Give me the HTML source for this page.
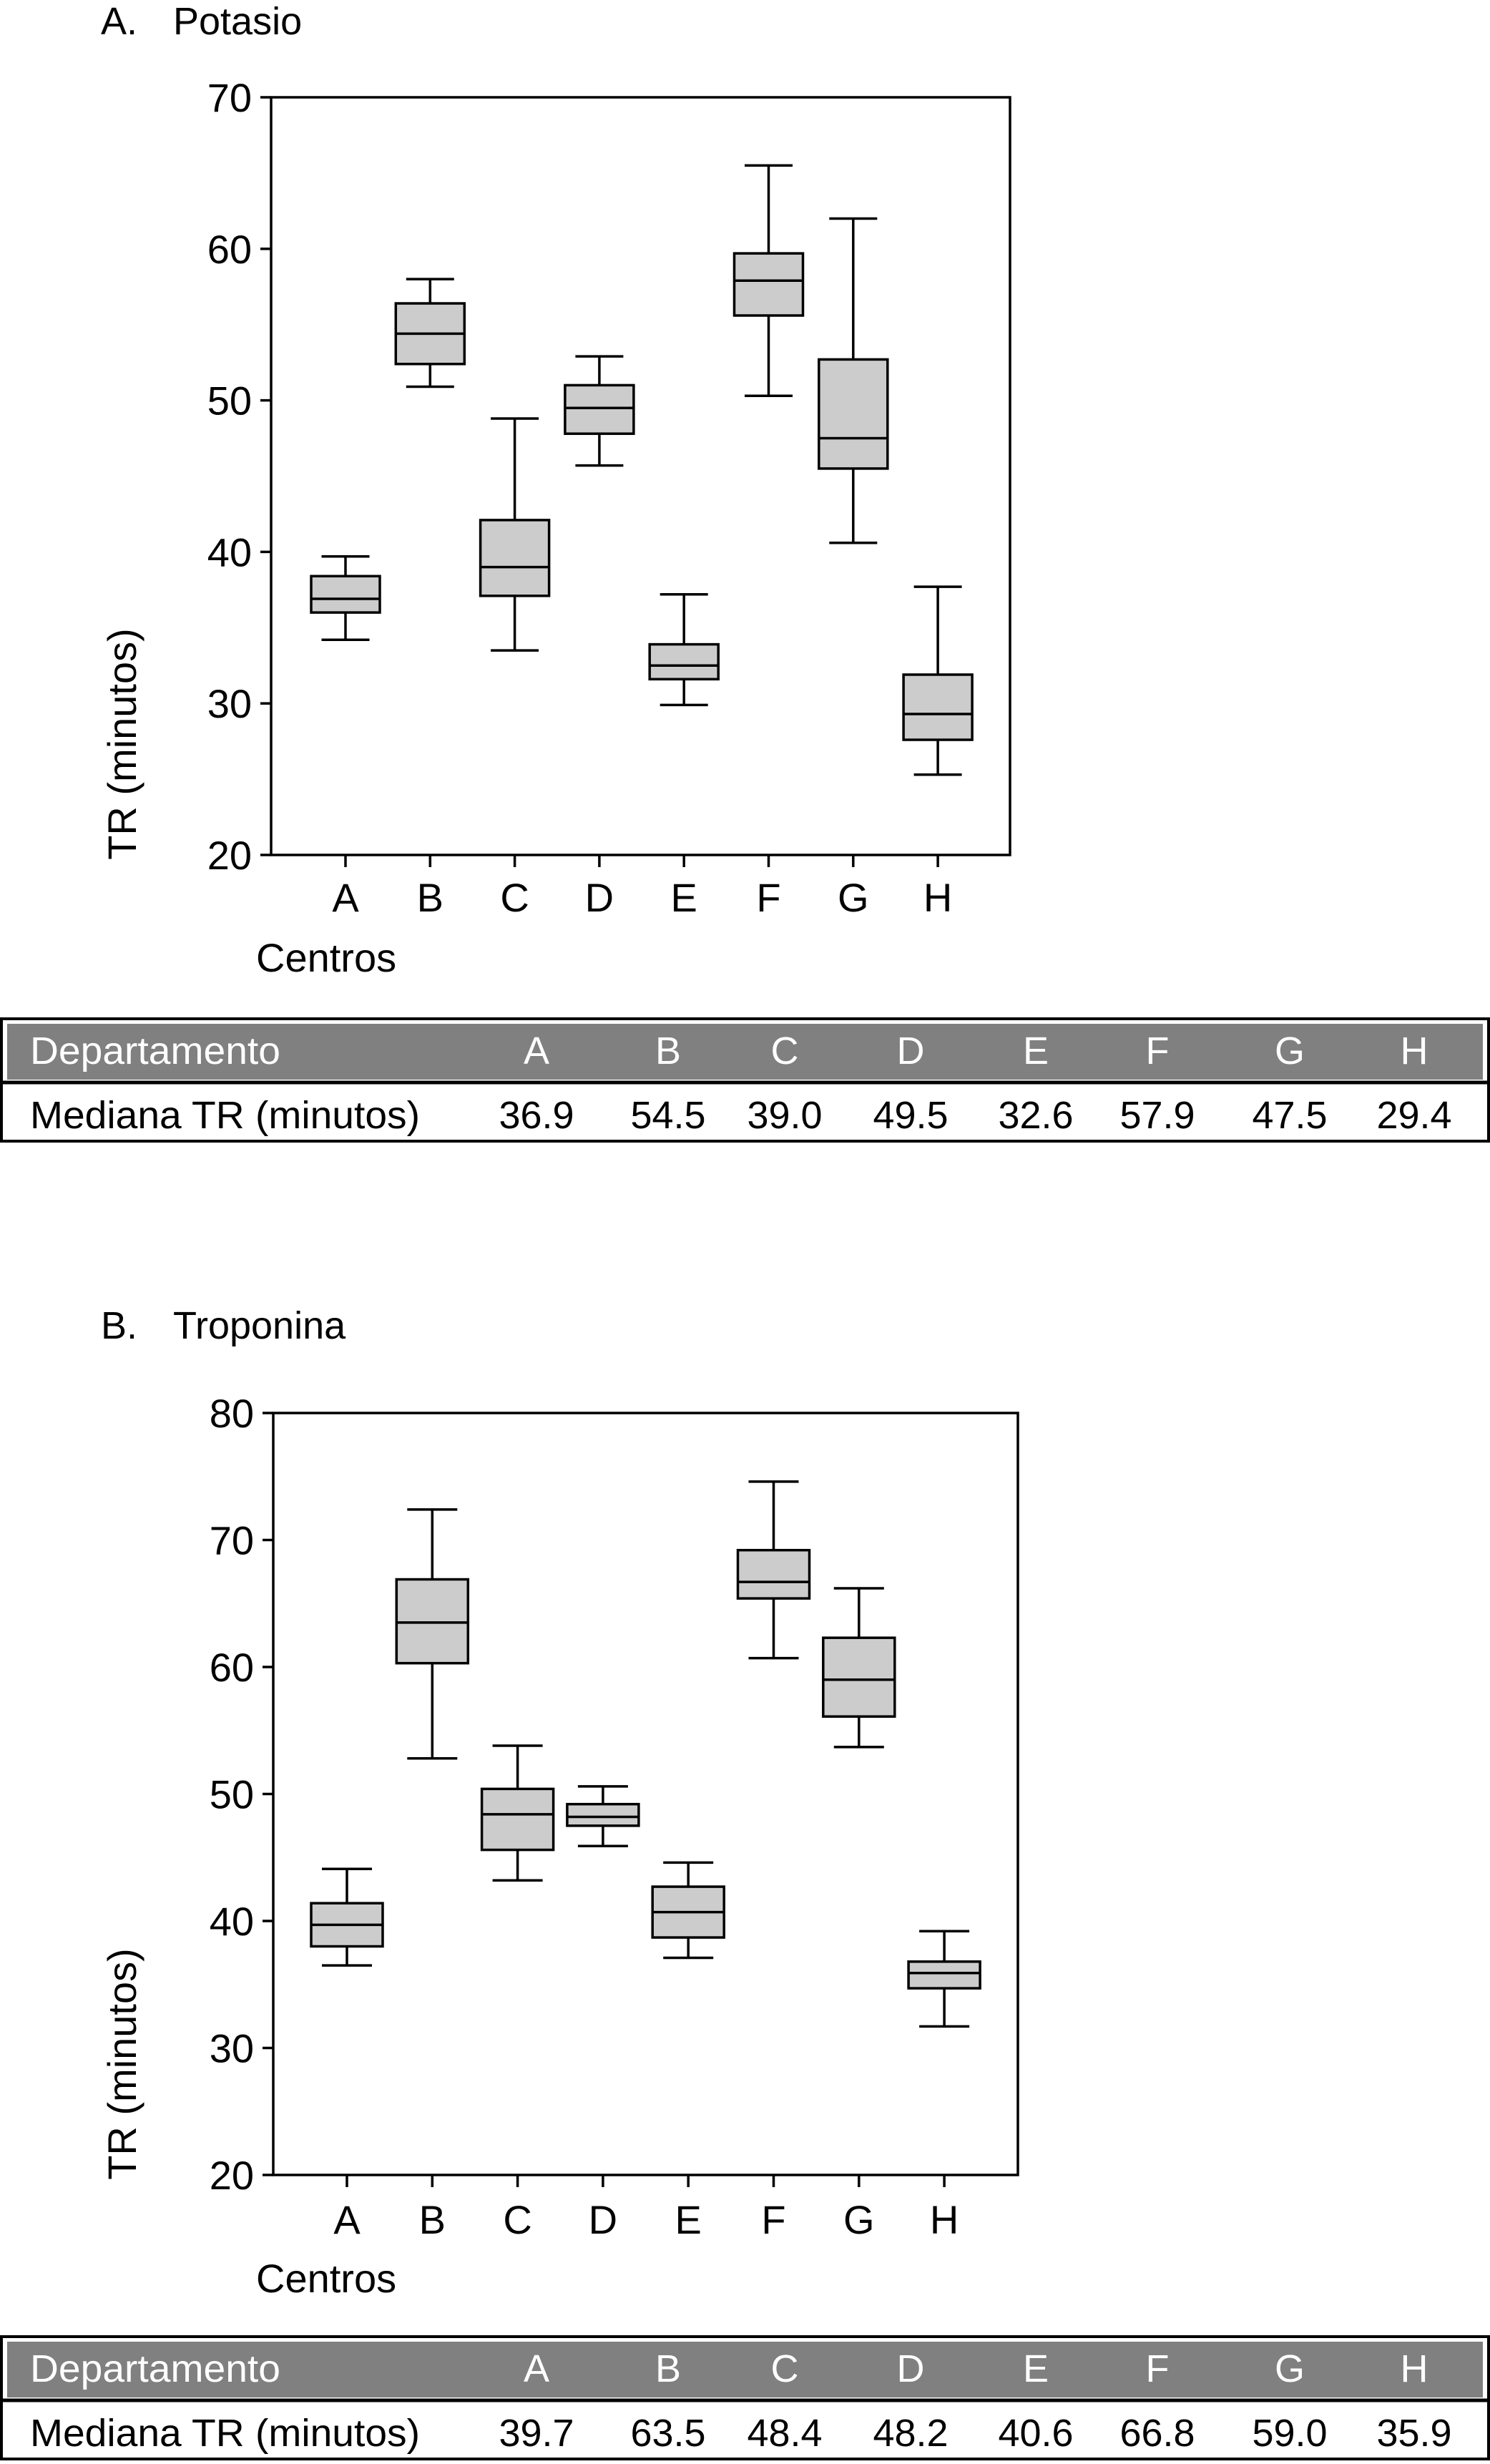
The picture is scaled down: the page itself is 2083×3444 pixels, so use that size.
<!DOCTYPE html>
<html><head><meta charset="utf-8"><style>
html,body{margin:0;padding:0;background:#fff;}
svg{display:block;font-family:"Liberation Sans",Arial,sans-serif;}
</style></head><body>
<svg id="fig" width="2083" height="3444" viewBox="0 0 2083 3444" xmlns="http://www.w3.org/2000/svg">
<rect width="2083" height="3444" fill="#fff"/>
<g id="chartA"></g>
<g id="chartB"></g>
<g id="tableA"></g>
<g id="tableB"></g>
</svg>
<script>
const categories = ["A","B","C","D","E","F","G","H"];
// Potasio: [lowWhisker, Q1, median, Q3, highWhisker]
const potLow  = [34.2, 50.9, 33.5, 45.7, 29.9, 50.3, 40.6, 25.3];
const potQ1   = [36.0, 52.4, 37.1, 47.8, 31.6, 55.6, 45.5, 27.6];
const potMed  = [36.9, 54.4, 39.0, 49.5, 32.5, 57.9, 47.5, 29.3];
const potQ3   = [38.4, 56.4, 42.1, 51.0, 33.9, 59.7, 52.7, 31.9];
const potHigh = [39.7, 58.0, 48.8, 52.9, 37.2, 65.5, 62.0, 37.7];
const potTicks = [20, 30, 40, 50, 60, 70];
const potMedianLabels = ["36.9","54.5","39.0","49.5","32.6","57.9","47.5","29.4"];
// Troponina
const troLow  = [36.5, 52.8, 43.2, 45.9, 37.1, 60.7, 53.7, 31.7];
const troQ1   = [38.0, 60.3, 45.6, 47.5, 38.7, 65.4, 56.1, 34.7];
const troMed  = [39.7, 63.5, 48.4, 48.2, 40.7, 66.7, 59.0, 35.9];
const troQ3   = [41.4, 66.9, 50.4, 49.2, 42.7, 69.2, 62.3, 36.8];
const troHigh = [44.1, 72.4, 53.8, 50.6, 44.6, 74.6, 66.2, 39.2];
const troTicks = [20, 30, 40, 50, 60, 70, 80];
const troMedianLabels = ["39.7","63.5","48.4","48.2","40.6","66.8","59.0","35.9"];

const NS = "http://www.w3.org/2000/svg";
function mk(parent, tag, attrs, text){
  const e = document.createElementNS(NS, tag);
  for (const k in attrs) e.setAttribute(k, attrs[k]);
  if (text !== undefined) e.textContent = text;
  parent.appendChild(e);
  return e;
}

function drawChart(g, cfg){
  const yS = v => cfg.bottom - (v - cfg.yMin) / (cfg.yMax - cfg.yMin) * (cfg.bottom - cfg.top);
  const xS = i => cfg.x0 + i * cfg.dx;
  const tl1 = mk(g, "text", {x: 141, y: cfg.titleY, "font-size": 54}, cfg.letter);
  
  
  const t = mk(g, "text", {x: 242, y: cfg.titleY, "font-size": 54}, cfg.title);
  
  
  const frame = mk(g, "rect", {x: cfg.left, y: cfg.top, width: cfg.right - cfg.left, height: cfg.bottom - cfg.top, fill: "none", stroke: "#000", "stroke-width": 3.5});
  
  
  cfg.ticks.forEach(v => {
    const y = yS(v);
    const tk = mk(g, "line", {x1: cfg.left - 15, x2: cfg.left, y1: y, y2: y, stroke: "#000", "stroke-width": 3.5});
    
    
    const tl = mk(g, "text", {x: cfg.left - 27, y: y + 20, "font-size": 56, "text-anchor": "end"}, String(v));
    
    
  });
  const yt = mk(g, "text", {x: 0, y: 0, "font-size": 56, "text-anchor": "middle", transform: `translate(190 ${cfg.yTitleY}) rotate(-90)`}, "TR (minutos)");
  
  
  const xt = mk(g, "text", {x: 358, y: cfg.centrosY, "font-size": 56}, "Centros");
  
  
  categories.forEach((c, i) => {
    const x = xS(i);
    const tk = mk(g, "line", {x1: x, x2: x, y1: cfg.bottom, y2: cfg.bottom + 17, stroke: "#000", "stroke-width": 3.5});
    
    
    const lb = mk(g, "text", {x: x, y: cfg.catY, "font-size": 56, "text-anchor": "middle"}, c);
    
    
    const bg = mk(g, "g", {});
    
    
    const hw = cfg.boxW / 2, cw = cfg.capW / 2;
    const st = {stroke: "#000", "stroke-width": 3.5};
    mk(bg, "line", Object.assign({x1: x, x2: x, y1: yS(cfg.high[i]), y2: yS(cfg.q3[i])}, st));
    mk(bg, "line", Object.assign({x1: x, x2: x, y1: yS(cfg.q1[i]), y2: yS(cfg.low[i])}, st));
    mk(bg, "line", Object.assign({x1: x - cw, x2: x + cw, y1: yS(cfg.high[i]), y2: yS(cfg.high[i])}, st));
    mk(bg, "line", Object.assign({x1: x - cw, x2: x + cw, y1: yS(cfg.low[i]), y2: yS(cfg.low[i])}, st));
    mk(bg, "rect", Object.assign({x: x - hw, y: yS(cfg.q3[i]), width: cfg.boxW, height: yS(cfg.q1[i]) - yS(cfg.q3[i]), fill: "#cccccc"}, st));
    mk(bg, "line", Object.assign({x1: x - hw, x2: x + hw, y1: yS(cfg.med[i]), y2: yS(cfg.med[i])}, st));
  });
}

function drawTable(g, top, labels){
  const cols = [750, 934, 1097, 1273, 1448, 1618, 1803, 1977];
  const o = mk(g, "rect", {x: 2, y: top, width: 2079, height: 171, fill: "none", stroke: "#000", "stroke-width": 4});
  
  
  const h = mk(g, "rect", {x: 10, y: top + 7, width: 2063, height: 78, fill: "#808080"});
  
  
  const d = mk(g, "line", {x1: 0, x2: 2083, y1: top + 89, y2: top + 89, stroke: "#000", "stroke-width": 5});
  
  
  const ht = mk(g, "text", {x: 42, y: top + 63, "font-size": 54, fill: "#fff", textLength: 350, lengthAdjust: "spacingAndGlyphs"}, "Departamento");
  
  
  const rt = mk(g, "text", {x: 42, y: top + 153, "font-size": 54, fill: "#000", textLength: 545, lengthAdjust: "spacingAndGlyphs"}, "Mediana TR (minutos)");
  
  
  categories.forEach((c, i) => {
    const a = mk(g, "text", {x: cols[i], y: top + 63, "font-size": 54, fill: "#fff", "text-anchor": "middle"}, c);
    
    
    const b = mk(g, "text", {x: cols[i], y: top + 153, "font-size": 54, fill: "#000", "text-anchor": "middle"}, labels[i]);
    
    
  });
}

drawChart(document.getElementById("chartA"), {
  letter: "A.", title: "Potasio", titleY: 48, left: 379, right: 1412, top: 136, bottom: 1195,
  yMin: 20, yMax: 70, ticks: potTicks, x0: 483, dx: 118.3, boxW: 96, capW: 67,
  low: potLow, q1: potQ1, med: potMed, q3: potQ3, high: potHigh,
  catY: 1274, centrosY: 1358, yTitleY: 1040
});
drawChart(document.getElementById("chartB"), {
  letter: "B.", title: "Troponina", titleY: 1871, left: 382, right: 1423, top: 1975, bottom: 3040,
  yMin: 20, yMax: 80, ticks: troTicks, x0: 485, dx: 119.3, boxW: 100, capW: 70,
  low: troLow, q1: troQ1, med: troMed, q3: troQ3, high: troHigh,
  catY: 3122, centrosY: 3204, yTitleY: 2885
});
drawTable(document.getElementById("tableA"), 1424, potMedianLabels);
drawTable(document.getElementById("tableB"), 3266, troMedianLabels);
</script>
</body></html>
